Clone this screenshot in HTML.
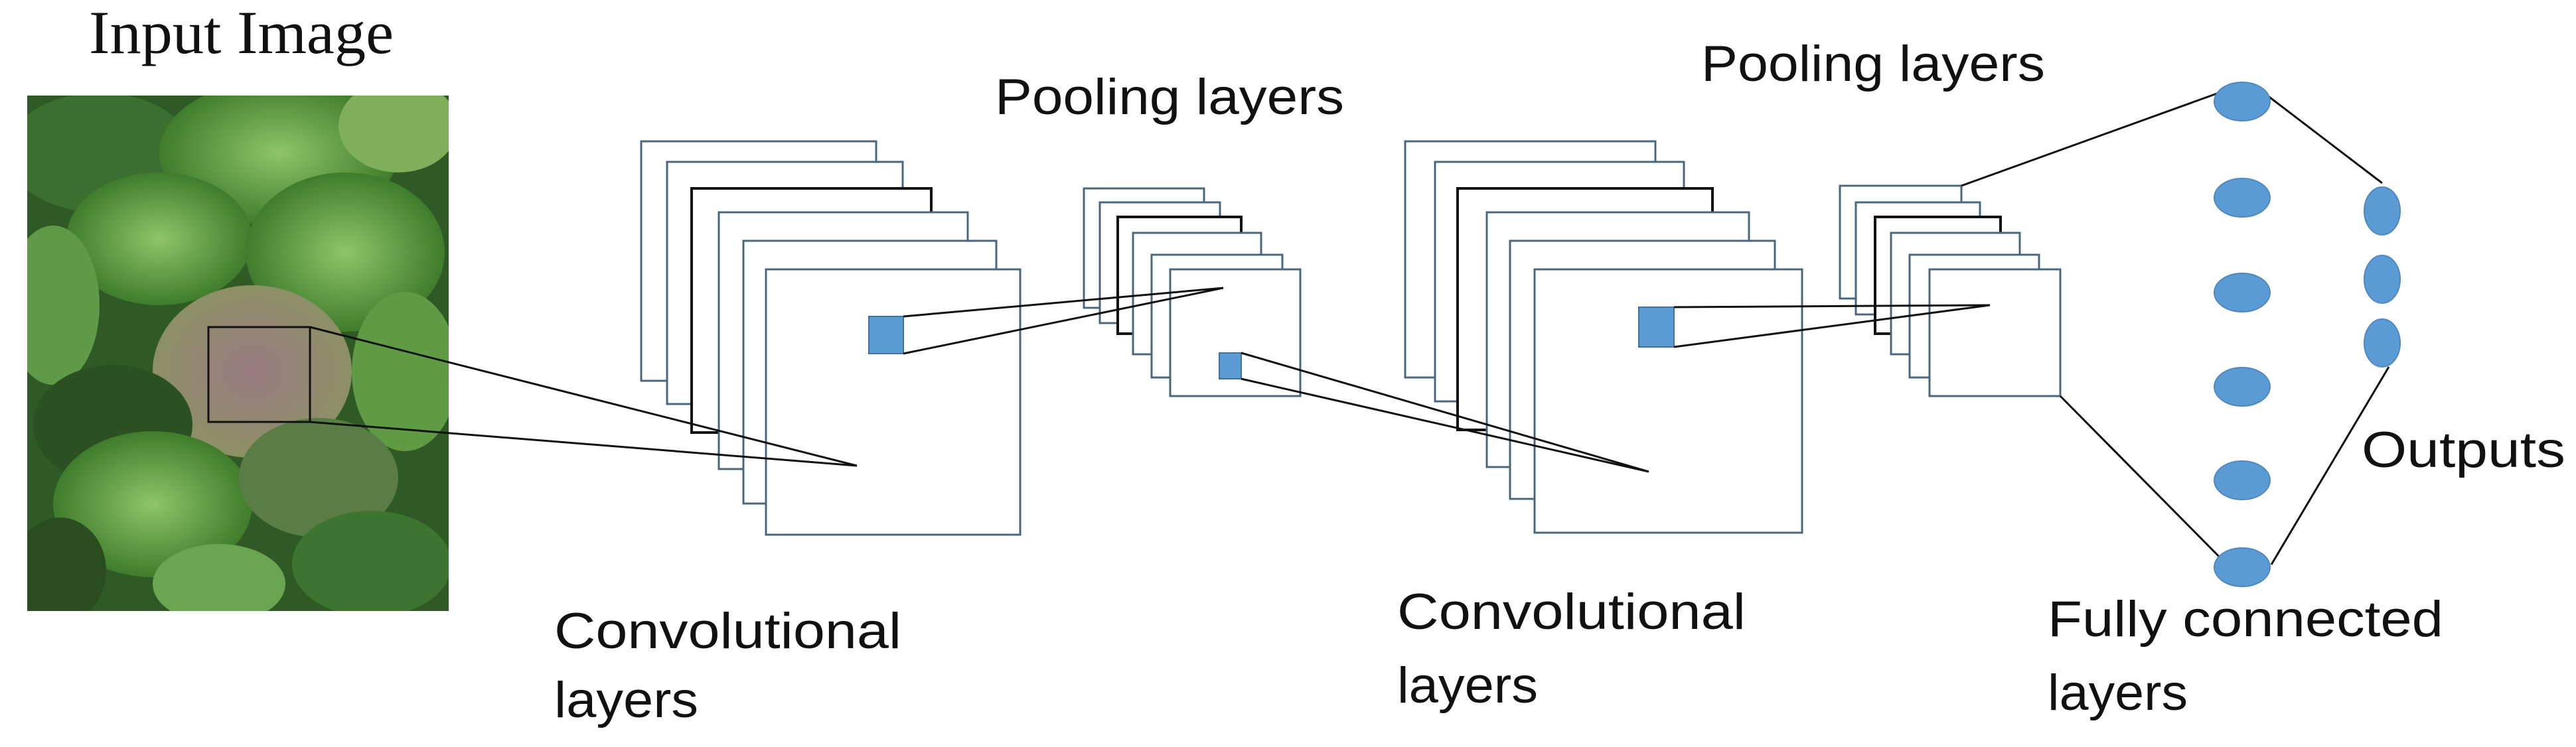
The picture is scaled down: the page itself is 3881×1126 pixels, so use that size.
<!DOCTYPE html>
<html><head><meta charset="utf-8"><style>html,body{margin:0;padding:0;background:#fff}svg{display:block}</style></head>
<body>
<svg width="3881" height="1126" viewBox="0 0 3881 1126" xmlns="http://www.w3.org/2000/svg">
<defs>
<radialGradient id="lf" cx="50%" cy="50%" r="50%"><stop offset="0" stop-color="#8fc46a"/><stop offset="1" stop-color="#3f7d2c"/></radialGradient>
<radialGradient id="pur" cx="50%" cy="50%" r="60%"><stop offset="0" stop-color="#9a7a82"/><stop offset="1" stop-color="#8a9560"/></radialGradient>
<clipPath id="pc"><rect x="41" y="144" width="635" height="777"/></clipPath>
</defs>
<rect width="3881" height="1126" fill="#fff"/>
<!-- Input image -->
<text x="134" y="80" font-family="Liberation Serif, serif" font-size="92" textLength="459" lengthAdjust="spacingAndGlyphs" fill="#111">Input Image</text>
<g clip-path="url(#pc)">
<rect x="41" y="144" width="635" height="777" fill="#2f5a26"/>
<ellipse cx="150" cy="230" rx="140" ry="90" fill="#3c6e30"/>
<ellipse cx="420" cy="230" rx="180" ry="110" fill="url(#lf)"/>
<ellipse cx="600" cy="190" rx="90" ry="70" fill="#7fae5c"/>
<ellipse cx="240" cy="360" rx="140" ry="100" fill="url(#lf)"/>
<ellipse cx="520" cy="380" rx="150" ry="120" fill="url(#lf)"/>
<ellipse cx="80" cy="460" rx="70" ry="120" fill="#5e9a48"/>
<ellipse cx="380" cy="560" rx="150" ry="130" fill="url(#pur)"/>
<ellipse cx="610" cy="560" rx="80" ry="120" fill="#5f9a45"/>
<ellipse cx="170" cy="640" rx="120" ry="90" fill="#2b5122"/>
<ellipse cx="230" cy="760" rx="150" ry="110" fill="url(#lf)"/>
<ellipse cx="480" cy="720" rx="120" ry="90" fill="#5a7d45"/>
<ellipse cx="560" cy="850" rx="120" ry="80" fill="#3d7430"/>
<ellipse cx="330" cy="880" rx="100" ry="60" fill="#6aa652"/>
<ellipse cx="90" cy="860" rx="70" ry="80" fill="#2a4d20"/>
</g>
<rect x="314" y="493" width="153" height="143" fill="none" stroke="#111" stroke-width="3"/>
<!-- Conv stack 1 -->
<g fill="#fff" stroke="#4a6780" stroke-width="3">
<rect x="966" y="213" width="354" height="361"/>
<rect x="1005" y="244" width="355" height="365"/>
<rect x="1042" y="284" width="361" height="368" stroke="#111" stroke-width="4"/>
<rect x="1083" y="320" width="375" height="387"/>
<rect x="1120" y="363" width="381" height="396"/>
<rect x="1154" y="406" width="383" height="400"/>
</g>
<g stroke="#111" stroke-width="3" fill="none">
<line x1="467" y1="493" x2="1291" y2="702"/>
<line x1="467" y1="636" x2="1291" y2="702"/>
</g>
<rect x="1309" y="477" width="52" height="56" fill="#5b9bd5" stroke="#41719c" stroke-width="2"/>
<!-- Pool stack 1 -->
<g fill="#fff" stroke="#4a6780" stroke-width="3">
<rect x="1633" y="284" width="181" height="180"/>
<rect x="1657" y="305" width="181" height="182"/>
<rect x="1684" y="327" width="186" height="176" stroke="#111" stroke-width="4"/>
<rect x="1707" y="351" width="193" height="183"/>
<rect x="1735" y="384" width="197" height="185"/>
<rect x="1763" y="406" width="196" height="191"/>
</g>
<g stroke="#111" stroke-width="3" fill="none">
<line x1="1361" y1="477" x2="1843" y2="434"/>
<line x1="1361" y1="533" x2="1843" y2="434"/>
</g>
<rect x="1837" y="532" width="33" height="39" fill="#5b9bd5" stroke="#41719c" stroke-width="2"/>
<!-- Conv stack 2 -->
<g fill="#fff" stroke="#4a6780" stroke-width="3">
<rect x="2117" y="213" width="377" height="356"/>
<rect x="2162" y="244" width="375" height="361"/>
<rect x="2196" y="284" width="384" height="364" stroke="#111" stroke-width="4"/>
<rect x="2240" y="320" width="395" height="384"/>
<rect x="2275" y="363" width="399" height="389"/>
<rect x="2312" y="406" width="403" height="397"/>
</g>
<g stroke="#111" stroke-width="3" fill="none">
<line x1="1870" y1="532" x2="2484" y2="711"/>
<line x1="1870" y1="571" x2="2484" y2="711"/>
</g>
<rect x="2469" y="463" width="53" height="60" fill="#5b9bd5" stroke="#41719c" stroke-width="2"/>
<!-- Pool stack 2 -->
<g fill="#fff" stroke="#4a6780" stroke-width="3">
<rect x="2772" y="280" width="183" height="170"/>
<rect x="2796" y="305" width="187" height="169"/>
<rect x="2825" y="327" width="189" height="176" stroke="#111" stroke-width="4"/>
<rect x="2849" y="351" width="194" height="183"/>
<rect x="2877" y="384" width="195" height="185"/>
<rect x="2907" y="406" width="197" height="191"/>
</g>
<g stroke="#111" stroke-width="3" fill="none">
<line x1="2522" y1="463" x2="2998" y2="460"/>
<line x1="2522" y1="523" x2="2998" y2="460"/>
<line x1="2955" y1="280" x2="3376" y2="128"/>
<line x1="3104" y1="597" x2="3366" y2="862"/>
<line x1="3416" y1="144" x2="3589" y2="276"/>
<line x1="3422" y1="851" x2="3599" y2="553"/>
</g>
<!-- FC nodes -->
<g fill="#5b9bd5" stroke="#4f88bf" stroke-width="2">
<ellipse cx="3378" cy="153" rx="42" ry="29"/>
<ellipse cx="3378" cy="298" rx="42" ry="29"/>
<ellipse cx="3378" cy="441" rx="42" ry="29"/>
<ellipse cx="3378" cy="583" rx="42" ry="29"/>
<ellipse cx="3378" cy="724" rx="42" ry="29"/>
<ellipse cx="3378" cy="855" rx="42" ry="29"/>
<ellipse cx="3589" cy="318" rx="27" ry="36"/>
<ellipse cx="3589" cy="421" rx="27" ry="36"/>
<ellipse cx="3589" cy="517" rx="27" ry="36"/>
</g>
<!-- Labels -->
<g font-family="Liberation Sans, sans-serif" font-size="76" fill="#111">
<text x="1499" y="172" textLength="526" lengthAdjust="spacingAndGlyphs">Pooling layers</text>
<text x="2563" y="122" textLength="518" lengthAdjust="spacingAndGlyphs">Pooling layers</text>
<text x="835" y="977" textLength="523" lengthAdjust="spacingAndGlyphs">Convolutional</text>
<text x="835" y="1081" textLength="217" lengthAdjust="spacingAndGlyphs">layers</text>
<text x="2105" y="948" textLength="525" lengthAdjust="spacingAndGlyphs">Convolutional</text>
<text x="2105" y="1059" textLength="212" lengthAdjust="spacingAndGlyphs">layers</text>
<text x="3085" y="959" textLength="596" lengthAdjust="spacingAndGlyphs">Fully connected</text>
<text x="3085" y="1070" textLength="211" lengthAdjust="spacingAndGlyphs">layers</text>
<text x="3558" y="704" textLength="307" lengthAdjust="spacingAndGlyphs">Outputs</text>
</g>
</svg>
</body></html>
